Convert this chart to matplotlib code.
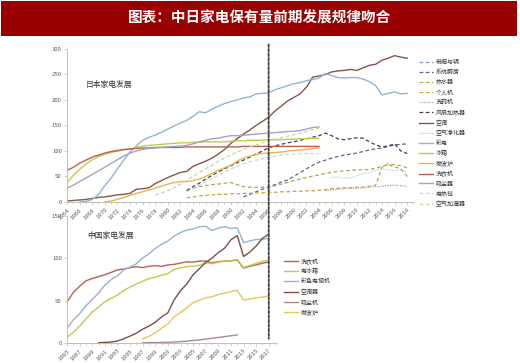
import numpy as np
import matplotlib
matplotlib.use("Agg")
import matplotlib.pyplot as plt
from matplotlib.patches import Rectangle, ConnectionPatch

plt.rcParams['font.family'] = ['Noto Sans CJK SC', 'DejaVu Sans']

nan = np.nan
# ---------------- Japan (top) ----------------
jp_years = list(range(1964, 2019))

def series(d):
    return [d.get(y, nan) for y in jp_years]

jp_ac = {1964: 2, 1965: 3, 1966: 4, 1967: 5, 1968: 7, 1969: 9, 1970: 10, 1971: 12, 1972: 14, 1973: 15,
         1974: 17, 1975: 25, 1976: 26, 1977: 28, 1978: 36, 1979: 42, 1980: 48, 1981: 53, 1982: 58, 1983: 60,
         1984: 70, 1985: 75, 1986: 80, 1987: 86, 1988: 94, 1989: 103, 1990: 115, 1991: 124, 1992: 133,
         1993: 141, 1994: 150, 1995: 158, 1996: 166, 1997: 178, 1998: 188, 1999: 198, 2000: 205, 2001: 212,
         2002: 225, 2003: 245, 2004: 247, 2005: 250, 2006: 255, 2007: 257, 2008: 258, 2009: 260, 2010: 258,
         2011: 263, 2012: 268, 2013: 270, 2014: 278, 2015: 282, 2016: 287, 2017: 284, 2018: 282}
jp_tv = {1966: 0, 1967: 1, 1968: 5, 1969: 15, 1970: 32, 1971: 47, 1972: 65, 1973: 82, 1974: 98, 1975: 110,
         1976: 121, 1977: 127, 1978: 131, 1979: 137, 1980: 143, 1981: 149, 1982: 155, 1983: 160, 1984: 168,
         1985: 177, 1986: 175, 1987: 182, 1988: 188, 1989: 193, 1990: 197, 1991: 200, 1992: 204, 1993: 206,
         1994: 212, 1995: 213, 1996: 214, 1997: 220, 1998: 224, 1999: 228, 2000: 232, 2001: 234, 2002: 238,
         2003: 240, 2004: 243, 2005: 252, 2006: 248, 2007: 244, 2008: 243, 2009: 244, 2010: 244, 2011: 241,
         2012: 236, 2013: 228, 2014: 210, 2015: 213, 2016: 216, 2017: 212, 2018: 213}
jp_washer = {1964: 62, 1965: 68, 1966: 76, 1967: 82, 1968: 88, 1969: 92, 1970: 96, 1971: 99, 1972: 101,
             1973: 103, 1974: 104, 1975: 105, 1976: 106, 1977: 106, 1978: 107, 1979: 107, 1980: 107,
             1981: 107, 1982: 107, 1983: 108, 1984: 108, 1985: 108, 1986: 108, 1987: 108, 1988: 108,
             1989: 108, 1990: 108, 1991: 108, 1992: 109, 1993: 109, 1994: 109, 1995: 109, 1996: 109,
             1997: 109, 1998: 109, 1999: 109, 2000: 109, 2001: 109, 2002: 109, 2003: 109, 2004: 109}
jp_fridge = {1964: 38, 1965: 52, 1966: 64, 1967: 74, 1968: 83, 1969: 89, 1970: 94, 1971: 97, 1972: 100,
             1973: 102, 1974: 104, 1975: 107, 1976: 110, 1977: 111, 1978: 112, 1979: 113, 1980: 114,
             1981: 115, 1982: 116, 1983: 116, 1984: 117, 1985: 117, 1986: 118, 1987: 118, 1988: 118,
             1989: 118, 1990: 119, 1991: 120, 1992: 120, 1993: 121, 1994: 121, 1995: 121, 1996: 122,
             1997: 122, 1998: 122, 1999: 123, 2000: 123, 2001: 124, 2002: 124, 2003: 125, 2004: 125}
jp_vacuum = {1964: 27, 1965: 33, 1966: 40, 1967: 47, 1968: 54, 1969: 61, 1970: 68, 1971: 76, 1972: 83,
             1973: 90, 1974: 96, 1975: 100, 1976: 103, 1977: 105, 1978: 106, 1979: 107, 1980: 108,
             1981: 109, 1982: 110, 1983: 111, 1984: 114, 1985: 118, 1986: 121, 1987: 124, 1988: 125,
             1989: 128, 1990: 130, 1991: 130, 1992: 131, 1993: 132, 1994: 133, 1995: 134, 1996: 135,
             1997: 136, 1998: 137, 1999: 138, 2000: 139, 2001: 140, 2002: 143, 2003: 146, 2004: 147}
jp_microwave = {1970: 0, 1971: 2, 1972: 5, 1973: 9, 1974: 13, 1975: 17, 1976: 20, 1977: 24, 1978: 27,
                1979: 31, 1980: 35, 1981: 38, 1982: 40, 1983: 40, 1984: 42, 1985: 45, 1986: 50, 1987: 56,
                1988: 62, 1989: 67, 1990: 72, 1991: 80, 1992: 86, 1993: 90, 1994: 93, 1995: 95, 1996: 96,
                1997: 97, 1998: 98, 1999: 100, 2000: 101, 2001: 102, 2002: 103, 2003: 105, 2004: 106}
jp_fanheater = {1983: 22, 1984: 30, 1985: 37, 1986: 45, 1987: 52, 1988: 59, 1989: 65, 1990: 71, 1991: 77,
                1992: 82, 1993: 88, 1994: 94, 1995: 100, 1996: 106, 1997: 110, 1998: 113, 1999: 116,
                2000: 118, 2001: 121, 2002: 124, 2003: 127, 2004: 130, 2005: 135, 2006: 130, 2007: 124,
                2008: 122, 2009: 124, 2010: 126, 2011: 125, 2012: 118, 2013: 112, 2014: 108, 2015: 110,
                2016: 114, 2017: 100, 2018: 95}
jp_kitchen = {1992: 10, 1993: 15, 1994: 20, 1995: 25, 1996: 29, 1997: 34, 1998: 39, 1999: 43, 2000: 50,
              2001: 58, 2002: 65, 2003: 72, 2004: 78, 2005: 82, 2006: 86, 2007: 89, 2008: 92, 2009: 94,
              2010: 96, 2011: 99, 2012: 102, 2013: 104, 2014: 106, 2015: 109, 2016: 112, 2017: 113, 2018: 114}
jp_heater = {1983: 24, 1984: 27, 1985: 30, 1986: 32, 1987: 34, 1988: 35, 1989: 37, 1990: 38, 1991: 34,
             1992: 30, 1993: 29, 1994: 29, 1995: 29, 1996: 29, 1997: 32, 1998: 35, 1999: 38, 2000: 42,
             2001: 45, 2002: 48, 2003: 51, 2004: 53, 2005: 56, 2006: 58, 2007: 60, 2008: 61, 2009: 62,
             2010: 63, 2011: 63, 2012: 64, 2013: 66, 2014: 70, 2015: 73, 2016: 69, 2017: 65, 2018: 50}
jp_pc = {1983: 8, 1984: 10, 1985: 12, 1986: 13, 1987: 14, 1988: 15, 1989: 15, 1990: 16, 1991: 16,
         1992: 17, 1993: 17, 1994: 18, 1995: 18, 1996: 19, 1997: 19, 1998: 20, 1999: 20, 2000: 21,
         2001: 21, 2002: 22, 2003: 22, 2004: 23, 2005: 24, 2006: 26, 2007: 27, 2008: 28, 2009: 28,
         2010: 29, 2011: 29, 2012: 31, 2013: 33, 2014: 68, 2015: 75, 2016: 73, 2017: 71, 2018: 67}
jp_dishwasher = {2005: 22, 2006: 24, 2007: 25, 2008: 26, 2009: 27, 2010: 27, 2011: 28, 2012: 29, 2013: 30,
                 2014: 31, 2015: 32, 2016: 33, 2017: 32, 2018: 31}
jp_purifier = {2006: 48, 2007: 49, 2008: 47, 2009: 47, 2010: 52, 2011: 56, 2012: 58, 2013: 62, 2014: 65,
               2015: 63, 2016: 62, 2017: 62, 2018: 60}
jp_humidifier = {1978: 14, 1979: 18, 1980: 22, 1981: 28, 1982: 35, 1983: 42, 1984: 50, 1985: 58, 1986: 65,
                 1987: 72, 1988: 80, 1989: 86, 1990: 92, 1991: 98, 1992: 103, 1993: 108, 1994: 112,
                 1995: 116, 1996: 120, 1997: 123, 1998: 126, 1999: 129, 2000: 132, 2001: 135, 2002: 138,
                 2003: 142, 2004: 145}
jp_blanket = {1983: 20, 1984: 27, 1985: 33, 1986: 40, 1987: 46, 1988: 52, 1989: 59, 1990: 65, 1991: 70,
              1992: 75, 1993: 79, 1994: 82, 1995: 85, 1996: 88, 1997: 90, 1998: 92, 1999: 93, 2000: 94,
              2001: 95, 2002: 95, 2003: 95, 2004: 94}
jp_first = {}

jp_labels = ['带烟与锅', '系统厨房', '热水器', '个人机', '洗碗机', '风扇加热器', '空调', '空气净化器',
             '彩电', '冰箱', '微波炉', '洗衣机', '吸尘器', '电热毯', '空气加湿器']
jp_data = [jp_first, jp_kitchen, jp_heater, jp_pc, jp_dishwasher, jp_fanheater, jp_ac, jp_purifier,
           jp_tv, jp_fridge, jp_microwave, jp_washer, jp_vacuum, jp_blanket, jp_humidifier]
jp_colors = ['#7f9cc4', '#4f6a96', '#9bb050', '#c9a33c', '#b89a9a', '#4a4040', '#8a5448', '#b9c9de',
             '#93b3d6', '#bccd4a', '#e2b84c', '#be5e4e', '#a4a2c6', '#c8d5e6', '#c7d69a']
jp_styles = [(0, (3, 2)), (0, (3, 2)), (0, (3, 2)), (0, (3, 2)), (0, (1, 1)), (0, (3, 2)), '-', (0, (1, 1)),
             '-', '-', '-', '-', '-', (0, (3, 2)), (0, (3, 2))]

# ---------------- China (bottom) ----------------
cn_years = list(range(1985, 2018))

def cseries(d):
    return [d.get(y, nan) for y in cn_years]

cn_washer = {1985: 48.3, 1986: 59.7, 1987: 67.0, 1988: 73.4, 1989: 76.2, 1990: 78.4, 1991: 80.6, 1992: 83.4,
             1993: 86.4, 1994: 87.3, 1995: 89.0, 1996: 90.1, 1997: 89.1, 1998: 90.6, 1999: 91.4, 2000: 90.5,
             2001: 92.2, 2002: 92.9, 2003: 94.4, 2004: 95.9, 2005: 95.5, 2006: 96.8, 2007: 96.8, 2008: 94.7,
             2009: 96.0, 2010: 96.9, 2011: 97.1, 2012: 98.0,
             2013: 88.4, 2014: 90.7, 2015: 92.3, 2016: 94.2, 2017: 95.7}
cn_fridge = {1985: 6.6, 1986: 12.7, 1987: 19.9, 1988: 28.1, 1989: 36.5, 1990: 42.3, 1991: 48.7, 1992: 52.6,
             1993: 56.7, 1994: 62.1, 1995: 66.2, 1996: 69.7, 1997: 73.0, 1998: 76.1, 1999: 77.7, 2000: 80.1,
             2001: 81.9, 2002: 87.0, 2003: 88.7, 2004: 90.2, 2005: 90.7, 2006: 91.8, 2007: 95.0, 2008: 93.6,
             2009: 95.4, 2010: 96.6, 2011: 97.2, 2012: 98.5,
             2013: 89.2, 2014: 91.7, 2015: 94.0, 2016: 96.4, 2017: 98.0}
cn_tv = {1985: 17.2, 1986: 27.4, 1987: 34.6, 1988: 43.9, 1989: 51.5, 1990: 59.0, 1991: 68.4, 1992: 74.9,
         1993: 79.5, 1994: 86.2, 1995: 89.8, 1996: 93.5, 1997: 100.5, 1998: 105.4, 1999: 111.6, 2000: 116.6,
         2001: 120.5, 2002: 126.4, 2003: 130.5, 2004: 133.4, 2005: 134.8, 2006: 137.4, 2007: 137.8,
         2008: 132.9, 2009: 135.7, 2010: 137.4, 2011: 135.2, 2012: 136.1,
         2013: 118.6, 2014: 120.6, 2015: 122.3, 2016: 122.3, 2017: 123.8}
cn_ac = {1990: 0.3, 1991: 0.7, 1992: 1.2, 1993: 2.3, 1994: 5.0, 1995: 8.1, 1996: 11.6, 1997: 16.3,
         1998: 20.0, 1999: 24.5, 2000: 30.8, 2001: 35.8, 2002: 51.1, 2003: 61.8, 2004: 69.8, 2005: 80.7,
         2006: 87.8, 2007: 95.1, 2008: 100.3, 2009: 106.8, 2010: 112.1, 2011: 122.0, 2012: 126.8,
         2013: 102.2, 2014: 107.4, 2015: 114.6, 2016: 123.7, 2017: 128.6}
cn_vacuum = {1997: 0.3, 1998: 0.4, 1999: 0.5, 2000: 0.6, 2001: 0.8, 2002: 1.2, 2003: 1.6, 2004: 2.2,
             2005: 2.9, 2006: 3.7, 2007: 4.7, 2008: 5.6, 2009: 6.6, 2010: 7.6, 2011: 8.5, 2012: 9.6}
cn_microwave = {1997: 5.0, 1998: 8.0, 1999: 12.0, 2000: 17.6, 2001: 22.5, 2002: 30.9, 2003: 36.0,
                2004: 41.7, 2005: 47.6, 2006: 50.6, 2007: 53.4, 2008: 54.6, 2009: 57.2, 2010: 59.0,
                2011: 60.7, 2012: 62.2, 2013: 50.6, 2014: 51.9, 2015: 53.2, 2016: 54.3, 2017: 55.5}

cn_labels = ['洗衣机', '电冰箱', '彩色电视机', '空调器', '吸尘机', '微波炉']
cn_data = [cn_washer, cn_fridge, cn_tv, cn_ac, cn_vacuum, cn_microwave]
cn_colors = ['#be5e4e', '#bccd4a', '#93b3d6', '#7e4e44', '#a88a8a', '#ecc25a']

title_text = '图表：中日家电保有量前期发展规律吻合'

# ---------------- figure ----------------
W, H = 520, 363
fig = plt.figure(figsize=(W / 100, H / 100), dpi=100)
fig.patch.set_facecolor('white')

fig.patches.append(Rectangle((1 / W, 1 - 36 / H), 516 / W, 35 / H, transform=fig.transFigure,
                             facecolor='#990000', edgecolor='none', zorder=0))
fig.text(0.5, 1 - 18 / H, title_text, color='white', fontsize=10.5, fontweight='bold',
         ha='center', va='center')

axis_gray = '#bfbfbf'
tick_col = '#595959'

def style_axes(ax):
    for s in ['top', 'right']:
        ax.spines[s].set_visible(False)
    for s in ['left', 'bottom']:
        ax.spines[s].set_color(axis_gray)
        ax.spines[s].set_linewidth(0.7)
    ax.tick_params(axis='both', which='both', colors=axis_gray, labelcolor=tick_col,
                   labelsize=4.3, length=2.2, width=0.5, direction='out', pad=1.5)
    ax.tick_params(axis='x', which='minor', length=1.6)
    ax.set_facecolor('none')

# top axes
ax1 = fig.add_axes([67 / W, 1 - 202 / H, 346.5 / W, 153 / H])
for lab, d, c, ls in zip(jp_labels, jp_data, jp_colors, jp_styles):
    lw = 1.0 if ls == '-' else 0.9
    ax1.plot(jp_years, series(d), color=c, linestyle=ls, lw=lw, label=lab)
ax1.set_xlim(1964, 2019)
ax1.set_ylim(0, 300)
ax1.set_yticks(np.arange(0, 301, 50))
ax1.set_xticks(np.arange(1964, 2019, 2))
ax1.set_xticks(np.arange(1964, 2020, 1), minor=True)
ax1.set_xticklabels([str(y) for y in range(1964, 2019, 2)], rotation=45, ha='right',
                    rotation_mode='anchor')
style_axes(ax1)
ax1.text(0.055, 0.765, '日本家电发展', transform=ax1.transAxes, fontsize=5.6, color='#333333',
         ha='left', va='center')
leg1 = ax1.legend(loc='upper left', bbox_to_anchor=(419 / W, 1 - 60 / H), bbox_transform=fig.transFigure,
                  frameon=False, fontsize=4.3, handlelength=2.3, handletextpad=0.5, labelspacing=0.72,
                  borderaxespad=0, borderpad=0)
for t in leg1.get_texts():
    t.set_color('#333333')

# bottom axes
ax2 = fig.add_axes([67 / W, 1 - 343 / H, 210 / W, 127 / H])
for lab, d, c in zip(cn_labels, cn_data, cn_colors):
    ax2.plot(cn_years, cseries(d), color=c, lw=1.0, label=lab)
ax2.set_xlim(1985, 2018.3)
ax2.set_ylim(0, 150)
ax2.set_yticks([0, 50, 100, 150])
ax2.set_xticks(np.arange(1985, 2018, 2))
ax2.set_xticks(np.arange(1985, 2019, 1), minor=True)
ax2.set_xticklabels([str(y) for y in range(1985, 2018, 2)], rotation=45, ha='right',
                    rotation_mode='anchor')
style_axes(ax2)
ax2.text(0.095, 0.84, '中国家电发展', transform=ax2.transAxes, fontsize=5.6, color='#333333',
         ha='left', va='center')
leg2 = ax2.legend(loc='upper left', bbox_to_anchor=(284 / W, 1 - 258 / H), bbox_transform=fig.transFigure,
                  frameon=False, fontsize=4.3, handlelength=2.3, handletextpad=0.5, labelspacing=0.75,
                  borderaxespad=0, borderpad=0)
for t in leg2.get_texts():
    t.set_color('#333333')

# vertical dashed marker: Japan 1996 aligned with China 2017
con = ConnectionPatch(xyA=(1996, 309), coordsA=ax1.transData, xyB=(2017, 5), coordsB=ax2.transData,
                      color='#404040', lw=1.3, linestyle=(0, (1.5, 1)), zorder=5)
fig.add_artist(con)

fig.savefig('out.png', dpi=100)
